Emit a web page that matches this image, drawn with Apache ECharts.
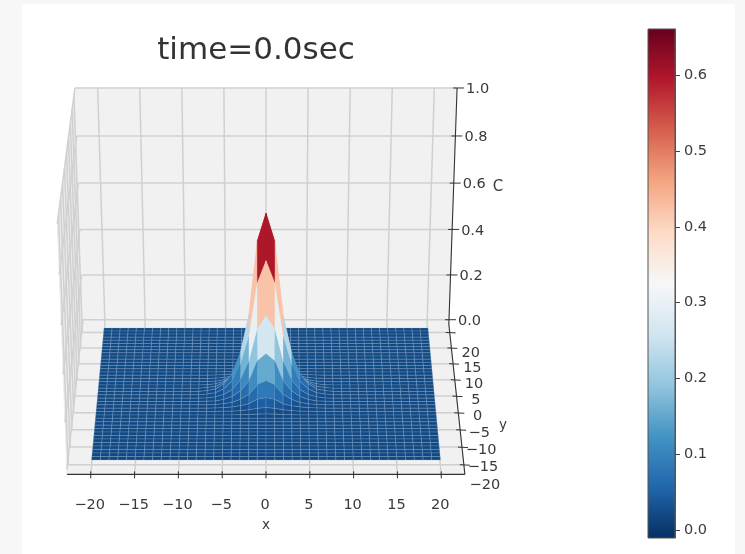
<!DOCTYPE html>
<html><head><meta charset="utf-8">
<style>html,body{margin:0;padding:0;background:#fff}#c{width:745px;height:554px}</style>
<script src="https://cdn.jsdelivr.net/npm/echarts@6/dist/echarts.min.js"></script>
</head><body><div id="c"></div>
<script>
// ---- data ----
const titleText = 'time=0.0sec';
const xTicks = [-20,-15,-10,-5,0,5,10,15,20];
const yTicks = [20,15,10,5,0,-5,-10,-15,-20];
const zTicks = [0,0.2,0.4,0.6,0.8,1.0];
const colorbarTicks = [0,0.1,0.2,0.3,0.4,0.5,0.6];
const meshStart = -20, meshEnd = 20;
const baseLevel = 0;
// C values around the origin: one quadrant, rows |y| = 0..7, columns |x| = 0..7
const peakQuadrant = [
 [.66,.56,.29,.15,.07,.03,.01,.004],
 [.5,.42,.22,.115,.053,.023,.008,.003],
 [.31,.26,.137,.07,.033,.014,.005,.001],
 [.18,.153,.079,.041,.019,.008,.002,.001],
 [.09,.076,.04,.021,.009,.004,.001,0],
 [.04,.034,.017,.009,.005,.002,.001,0],
 [.015,.012,.007,.003,.001,.001,0,0],
 [.004,.003,.001,.001,0,0,0,0]
];
const rdBu = ['#053061','#2166ac','#4393c3','#92c5de','#d1e5f0','#f7f7f7','#fddbc7','#f4a582','#d6604d','#b2182b','#67001f'];
const colorMin = -0.0105, colorMax = 0.661;

// ---- view settings ----
const paneHalf = 22.7, floorZ = -0.02, topZ = 1, heightGain = 1.145;
const faceGain = 1.08, faceLift = 0.02;
function project(x, y, z) {
  const d = 0.11904 + 0.000221 * y - 0.00526 * z;
  return [266 + x / d, (46.61 - 0.306 * y - 29.21 * z) / d];
}
function valueAt(ix, iy) {
  const r = peakQuadrant[Math.abs(iy)], v = r && r[Math.abs(ix)];
  return v === undefined ? baseLevel : v;
}
function hex(c){return [1,3,5].map(i=>parseInt(c.substr(i,2),16));}
function cmap(v){
  let t=(v-colorMin)/(colorMax-colorMin)*(rdBu.length-1);
  t=Math.max(0,Math.min(rdBu.length-1.0001,t));
  const i=Math.floor(t),f=t-i,a=hex(rdBu[i]),b=hex(rdBu[i+1]);
  return a.map((c,k)=>c+(b[k]-c)*f);
}
function rgb(a){return 'rgb('+a.map(Math.round).join(',')+')';}

// cells ordered back to front, outside towards the middle
const cells=[];
for(let y=meshEnd-1;y>=meshStart;y--){
  const xs=[];
  for(let x=meshStart;x<meshEnd;x++)xs.push(x);
  xs.sort((a,b)=>Math.abs(b+.5)-Math.abs(a+.5));
  xs.forEach(x=>cells.push([x,y,valueAt(x,y),valueAt(x+1,y),valueAt(x+1,y+1),valueAt(x,y+1)]));
}

const panes=[
 {fill:'#ececec',pts:[[-paneHalf,paneHalf,floorZ],[-paneHalf,paneHalf,topZ],[-paneHalf,-paneHalf,topZ],[-paneHalf,-paneHalf,floorZ]]},
 {fill:'#f1f1f1',pts:[[-paneHalf,paneHalf,floorZ],[paneHalf,paneHalf,floorZ],[paneHalf,paneHalf,topZ],[-paneHalf,paneHalf,topZ]]},
 {fill:'#f1f1f1',pts:[[-paneHalf,-paneHalf,floorZ],[paneHalf,-paneHalf,floorZ],[paneHalf,paneHalf,floorZ],[-paneHalf,paneHalf,floorZ]]}
];
const gridLines=[];
xTicks.forEach(x=>{
  gridLines.push([[x,-paneHalf,floorZ],[x,paneHalf,floorZ]]);
  gridLines.push([[x,paneHalf,floorZ],[x,paneHalf,topZ]]);
});
yTicks.forEach(y=>{
  gridLines.push([[-paneHalf,y,floorZ],[paneHalf,y,floorZ]]);
  gridLines.push([[-paneHalf,y,floorZ],[-paneHalf,y,topZ]]);
});
zTicks.forEach(z=>{
  gridLines.push([[-paneHalf,-paneHalf,z],[-paneHalf,paneHalf,z]]);
  gridLines.push([[-paneHalf,paneHalf,z],[paneHalf,paneHalf,z]]);
});
const axisLines=[
 [[-paneHalf,-paneHalf,floorZ],[paneHalf,-paneHalf,floorZ]],
 [[paneHalf,-paneHalf,floorZ],[paneHalf,paneHalf,floorZ]],
 [[paneHalf,paneHalf,floorZ],[paneHalf,paneHalf,topZ]]
];

const txtColor='#3a3a3a', font='DejaVu Sans';
function poly(api,pts,style){
  return {type:'polygon',shape:{points:pts.map(p=>api.coord(project(p[0],p[1],p[2])))},style};
}
function seg(api,a,b,stroke,w){
  const p=api.coord(a),q=api.coord(b);
  return {type:'line',shape:{x1:p[0],y1:p[1],x2:q[0],y2:q[1]},style:{stroke,lineWidth:w}};
}
function label(api,pos,text,opt){
  const p=api.coord([pos[0],pos[1]+1.5]);
  return {type:'text',x:p[0],y:p[1],style:Object.assign({text,fill:txtColor,font:'14.5px "'+font+'"',align:'center',verticalAlign:'middle'},opt||{})};
}
function fmt(v){return String(v).replace('-','\u2212');}

function staticItem(params,api){
  const ch=[];
  panes.forEach(p=>ch.push(poly(api,p.pts,{fill:p.fill,stroke:p.fill,lineWidth:1})));
  gridLines.forEach(l=>ch.push(seg(api,project(...l[0]),project(...l[1]),'#d0d0d0',1.5)));
  return {type:'group',children:ch};
}
function axesItem(params,api){
  const ch=[];
  axisLines.forEach(l=>ch.push(seg(api,project(...l[0]),project(...l[1]),'#333',1.1)));
  xTicks.forEach(x=>{
    const p=project(x,-paneHalf,floorZ);
    ch.push(seg(api,[p[0],p[1]-3],[p[0],p[1]+4],'#333',1));
    ch.push(label(api,[p[0]-1,p[1]+29],fmt(x)));
  });
  yTicks.forEach(y=>{
    const p=project(paneHalf,y,floorZ);
    ch.push(seg(api,[p[0]-4,p[1]],[p[0]+6,p[1]+.5],'#333',1));
    ch.push(label(api,[p[0]+21,p[1]+19],fmt(y)));
  });
  zTicks.forEach(z=>{
    const p=project(paneHalf,paneHalf,z);
    ch.push(seg(api,[p[0]-4,p[1]],[p[0]+7,p[1]],'#333',1));
    ch.push(label(api,[p[0]+9,p[1]],z.toFixed(1),{align:'left'}));
  });
  ch.push(label(api,[266,524],'x',{font:'13.5px "'+font+'"'}));
  ch.push(label(api,[503,424],'y',{font:'13.5px "'+font+'"'}));
  ch.push(label(api,[498,186],'C',{font:'15px "'+font+'"'}));
  return {type:'group',children:ch};
}
function cellItem(params,api){
  const [x,y,a,b,c,d]=cells[params.dataIndex];
  const g=heightGain;
  const mean=(a+b+c+d)/4;
  const fill=rgb(cmap(mean*faceGain+faceLift));
  const low=mean<0.06;
  const pts=[[x,y,a*g],[x+1,y,b*g],[x+1,y+1,c*g],[x,y+1,d*g]];
  return poly(api,pts,{fill,stroke:low?'rgba(150,185,215,0.36)':fill,lineWidth:low?0.7:0.4});
}
const gradStops=rdBu.map((c,i)=>({offset:1-i/(rdBu.length-1),color:c})).reverse();

const chart=echarts.init(document.getElementById('c'),null,{renderer:'canvas'});
chart.setOption({
  animation:false,
  backgroundColor:'#f7f7f7',
  graphic:[{type:'rect',silent:true,z:-10,shape:{x:22,y:4,width:713,height:550},style:{fill:'#ffffff'}}],
  title:{text:titleText,left:251,top:30,textAlign:'center',textStyle:{fontFamily:font,fontWeight:'normal',fontSize:31,color:'#333'}},
  grid:[
    {left:0,right:0,top:0,bottom:0},
    {left:648,top:29,width:27,height:509,containLabel:false}
  ],
  xAxis:[
    {gridIndex:0,type:'value',min:0,max:745,show:false},
    {gridIndex:1,type:'value',min:0,max:1,show:false}
  ],
  yAxis:[
    {gridIndex:0,type:'value',min:0,max:554,inverse:true,show:false},
    {gridIndex:1,type:'value',min:colorMin,max:colorMax,position:'right',
     axisLine:{show:true,onZero:false,lineStyle:{color:'#555',width:1}},
     splitLine:{show:false},
     axisTick:{show:true,length:5,customValues:colorbarTicks,lineStyle:{color:'#444'}},
     axisLabel:{show:true,customValues:colorbarTicks,margin:9,color:txtColor,fontFamily:font,fontSize:14.5,formatter:v=>v.toFixed(1)}}
  ],
  series:[
    {type:'custom',xAxisIndex:0,yAxisIndex:0,data:[0],renderItem:staticItem,silent:true,z:1,clip:false},
    {type:'custom',xAxisIndex:0,yAxisIndex:0,data:cells.map((c,i)=>[i]),renderItem:cellItem,silent:true,z:2,progressive:0,clip:false},
    {type:'custom',xAxisIndex:0,yAxisIndex:0,data:[0],renderItem:axesItem,silent:true,z:3,clip:false},
    {type:'custom',xAxisIndex:1,yAxisIndex:1,data:[0],silent:true,z:2,
     renderItem:(p,api)=>{
       const a=api.coord([0,colorMax]),b=api.coord([1,colorMin]);
       return {type:'rect',shape:{x:a[0],y:a[1],width:b[0]-a[0],height:b[1]-a[1]},
         style:{fill:new echarts.graphic.LinearGradient(0,0,0,1,gradStops),stroke:'#555',lineWidth:1}};
     }}
  ]
});
</script></body></html>
